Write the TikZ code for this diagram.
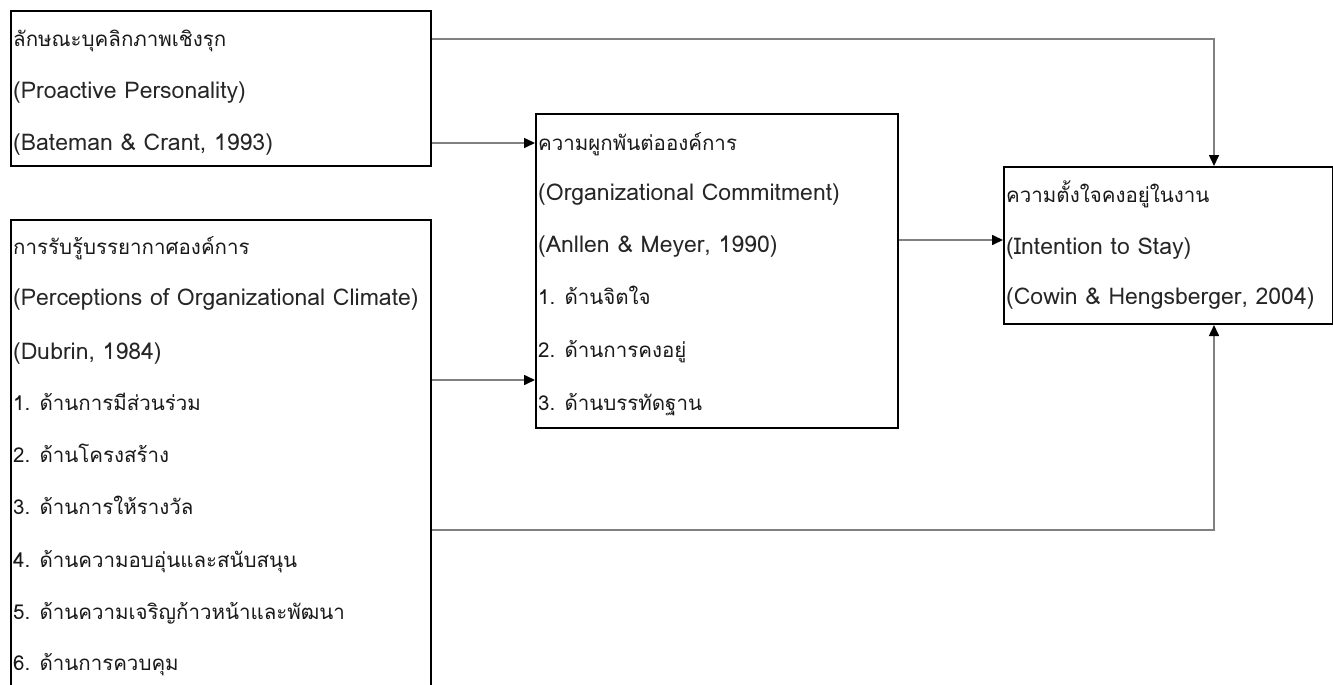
\documentclass[tikz,border=0pt]{standalone}
\usepackage{fontspec}
\setmainfont[Script=Thai]{Loma}
\usetikzlibrary{arrows.meta}
\tikzset{
  box/.style={draw=black, line width=2pt, anchor=north west, inner sep=0pt},
  txt/.style={anchor=base west, inner sep=0pt, font=\fontsize{23}{26}\selectfont, text=black!85},
  thai/.style={txt, font=\fontsize{20.5}{24}\selectfont, text=black!90},
  conn/.style={draw=black!50, line width=1.6pt, -{Triangle[length=11pt,width=10pt,color=black]}},
}
\begin{document}
\begin{tikzpicture}[x=1pt,y=-1pt]
\useasboundingbox (0,0) rectangle (1333,685);
\clip (0,0) rectangle (1333,685);
\fill[white] (0,0) rectangle (1333,685);
% boxes
\node[box, minimum width=420pt, minimum height=155pt] (A) at (10,10) {};
\node[box, minimum width=420pt, minimum height=490pt] (B) at (10,219) {};
\node[box, minimum width=362pt, minimum height=314pt] (C) at (535,113) {};
\node[box, minimum width=329pt, minimum height=157pt] (D) at (1003,166) {};
% texts box A
\node[thai] (a1) at (13,47) {ลักษณะบุคลิกภาพเชิงรุก};
\node[txt] (a2) at (13,98) {(Proactive Personality)};
\node[txt] (a3) at (13,150) {(Bateman \& Crant, 1993)};
% texts box B
\node[thai] (b1) at (13,254) {การรับรู้บรรยากาศองค์การ};
\node[txt] (b2) at (13,305) {(Perceptions of Organizational Climate)};
\node[txt] (b3) at (13,359) {(Dubrin, 1984)};
\node[thai] (b4) at (13,410) {1. ด้านการมีส่วนร่วม};
\node[thai] (b5) at (13,462) {2. ด้านโครงสร้าง};
\node[thai] (b6) at (13,514) {3. ด้านการให้รางวัล};
\node[thai] (b7) at (13,567) {4. ด้านความอบอุ่นและสนับสนุน};
\node[thai] (b8) at (13,619) {5. ด้านความเจริญก้าวหน้าและพัฒนา};
\node[thai] (b9) at (13,670) {6. ด้านการควบคุม};
% texts box C
\node[thai] (c1) at (538,150) {ความผูกพันต่อองค์การ};
\node[txt] (c2) at (538,200) {(Organizational Commitment)};
\node[txt] (c3) at (538,252) {(Anllen \& Meyer, 1990)};
\node[thai] (c4) at (538,304) {1. ด้านจิตใจ};
\node[thai] (c5) at (538,357) {2. ด้านการคงอยู่};
\node[thai] (c6) at (538,410) {3. ด้านบรรทัดฐาน};
% texts box D
\node[thai] (d1) at (1006,202) {ความตั้งใจคงอยู่ในงาน};
\node[txt] (d2) at (1006,254) {(Intention to Stay)};
\node[txt] (d3) at (1006,304) {(Cowin \& Hengsberger, 2004)};
% connectors
\draw[conn] ([yshift=-29pt]A.north east) -| ([xshift=45.5pt]D.north);
\draw[conn] ([yshift=-133pt]A.north east) coordinate (s2) -- (s2 -| C.west);
\draw[conn] ([yshift=-161pt]B.north east) coordinate (s3) -- (s3 -| C.west);
\draw[conn] ([yshift=-127pt]C.north east) coordinate (s4) -- (s4 -| D.west);
\draw[conn] ([yshift=-311pt]B.north east) -| ([xshift=45.5pt]D.south);
\end{tikzpicture}
\end{document}
